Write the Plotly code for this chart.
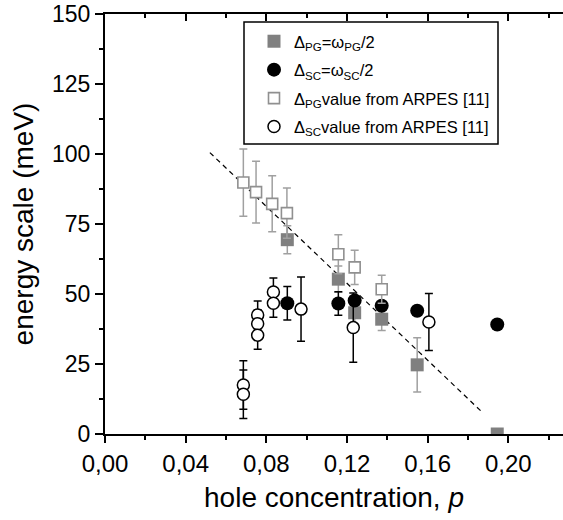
import plotly.graph_objects as go

# ---- data ----
# Delta_PG = omega_PG/2 (grey filled squares)
pg_x = [0.0904, 0.1157, 0.1238, 0.1372, 0.1548, 0.1945]
pg_y = [69.4, 55.3, 43.3, 41.0, 24.7, 0.0]
pg_err = [5.0, 4.7, 4.0, 4.0, 9.7, 0.0]

# Delta_SC = omega_SC/2 (black filled circles)
sc_x = [0.0904, 0.1157, 0.1238, 0.1372, 0.1548, 0.1945]
sc_y = [46.7, 46.6, 47.7, 45.8, 44.0, 39.1]
sc_err = [6.0, 4.2, 0.0, 0.0, 0.0, 0.0]

# Delta_PG value from ARPES [11] (open squares)
apg_x = [0.0686, 0.0749, 0.0829, 0.0902, 0.1157, 0.1238, 0.1372]
apg_y = [89.8, 86.4, 82.2, 78.9, 64.2, 59.5, 51.7]
apg_err = [12.0, 11.0, 10.0, 9.0, 7.0, 6.1, 5.0]

# Delta_SC value from ARPES [11] (open circles)
asc_x = [0.0686, 0.0686, 0.0757, 0.0757, 0.0757, 0.0835, 0.0835, 0.0972, 0.1231, 0.1606]
asc_y = [17.5, 14.2, 42.5, 39.4, 35.3, 50.7, 46.7, 44.6, 38.0, 40.0]
asc_err = [8.7, 8.7, 5.0, 5.0, 5.0, 5.0, 5.0, 11.5, 12.4, 10.2]

# dashed guide line
fit_x = [0.052, 0.187]
fit_y = [100.5, 7.8]

x_tickvals = [0.00, 0.04, 0.08, 0.12, 0.16, 0.20]
x_ticktext = ["0,00", "0,04", "0,08", "0,12", "0,16", "0,20"]
y_tickvals = [0, 25, 50, 75, 100, 125, 150]
y_ticktext = ["0", "25", "50", "75", "100", "125", "150"]

names = [
    "Δ<sub>PG</sub>=ω<sub>PG</sub>/2",
    "Δ<sub>SC</sub>=ω<sub>SC</sub>/2",
    "Δ<sub>PG</sub>value from ARPES [11]",
    "Δ<sub>SC</sub>value from ARPES [11]",
]

FONT = "Liberation Sans, Arial, sans-serif"
X_RANGE = [0, 0.2271]

# plot area spans x 105..563, y 14..434 on screen
PLOT_L, PLOT_W, PLOT_T, PLOT_H = 105, 458, 14, 420

fig = go.Figure()

fig.add_trace(go.Scatter(
    x=fit_x, y=fit_y, mode="lines", showlegend=False, hoverinfo="skip",
    line=dict(color="black", width=1.2, dash="5px,4px"),
))

fig.add_trace(go.Scatter(
    x=pg_x, y=pg_y, mode="markers", name=names[0], legendgroup="a",
    marker=dict(symbol="square", size=13, color="#808080", line=dict(width=0)),
    error_y=dict(type="data", array=pg_err, color="#a0a0a0", thickness=1.5, width=4),
))
fig.add_trace(go.Scatter(
    x=sc_x, y=sc_y, mode="markers", name=names[1], legendgroup="b",
    marker=dict(symbol="circle", size=14, color="black", line=dict(width=0)),
    error_y=dict(type="data", array=sc_err, color="black", thickness=1.5, width=4),
))
fig.add_trace(go.Scatter(
    x=apg_x, y=apg_y, mode="markers", name=names[2], legendgroup="c",
    marker=dict(symbol="square", size=11, color="white", line=dict(width=1.6, color="#909090")),
    error_y=dict(type="data", array=apg_err, color="#a0a0a0", thickness=1.5, width=4),
))
fig.add_trace(go.Scatter(
    x=asc_x, y=asc_y, mode="markers", name=names[3], legendgroup="d",
    marker=dict(symbol="circle", size=12, color="white", line=dict(width=1.5, color="black")),
    error_y=dict(type="data", array=asc_err, color="black", thickness=1.5, width=4),
))
# empty trace so the top mirror axis is drawn
fig.add_trace(go.Scatter(x=[], y=[], xaxis="x2", showlegend=False, hoverinfo="skip"))


def px_x(p):
    return (p - PLOT_L) / PLOT_W


def px_y(p):
    return (PLOT_T + PLOT_H - p) / PLOT_H


fig.update_layout(
    width=563, height=520,
    margin=dict(l=105, r=0, t=14, b=86, autoexpand=False),
    paper_bgcolor="white", plot_bgcolor="white",
    font=dict(family=FONT, color="black"),
    showlegend=True,
    legend=dict(
        x=px_x(254), y=px_y(24), xanchor="left", yanchor="top",
        font=dict(family=FONT, size=16.5, color="black"),
        bgcolor="rgba(0,0,0,0)", borderwidth=0,
        tracegroupgap=4, itemsizing="trace",
    ),
    xaxis=dict(
        range=X_RANGE, showgrid=False, zeroline=False, automargin=False,
        showline=True, linecolor="black", linewidth=2,
        tickmode="array", tickvals=x_tickvals, ticktext=x_ticktext,
        ticks="outside", ticklen=7, tickwidth=2, tickcolor="black",
        minor=dict(dtick=0.02, tick0=0, ticks="outside", ticklen=4, tickwidth=2, tickcolor="black"),
        tickfont=dict(family=FONT, size=24),
        title=dict(text="hole concentration, <i>p</i>", font=dict(family=FONT, size=28), standoff=12),
    ),
    xaxis2=dict(
        overlaying="x", side="top", matches="x", range=X_RANGE, automargin=False,
        showgrid=False, zeroline=False, showticklabels=False,
        showline=True, linecolor="black", linewidth=2,
        tickmode="array", tickvals=x_tickvals,
        ticks="inside", ticklen=7, tickwidth=2, tickcolor="black",
        minor=dict(dtick=0.02, tick0=0, ticks="inside", ticklen=4, tickwidth=2, tickcolor="black"),
    ),
    yaxis=dict(
        range=[0, 150], showgrid=False, zeroline=False, automargin=False,
        showline=True, linecolor="black", linewidth=2,
        tickmode="array", tickvals=y_tickvals, ticktext=y_ticktext,
        ticks="outside", ticklen=8, tickwidth=2, tickcolor="black",
        minor=dict(dtick=12.5, tick0=0, ticks="outside", ticklen=4, tickwidth=2, tickcolor="black"),
        tickfont=dict(family=FONT, size=23),
        title=dict(text="energy scale (meV)", font=dict(family=FONT, size=28), standoff=10),
    ),
    shapes=[dict(
        type="rect", xref="paper", yref="paper",
        x0=px_x(244), x1=px_x(498),
        y0=px_y(144), y1=px_y(22),
        line=dict(color="black", width=1.5), fillcolor="rgba(0,0,0,0)", layer="above",
    )],
)

# remove the browser's default 8px body margin so the figure sits at the page corner
fig.write_html(
    "out.html",
    config={"displayModeBar": False},
    post_script="document.body.style.margin='0';document.body.style.overflow='hidden';",
)
